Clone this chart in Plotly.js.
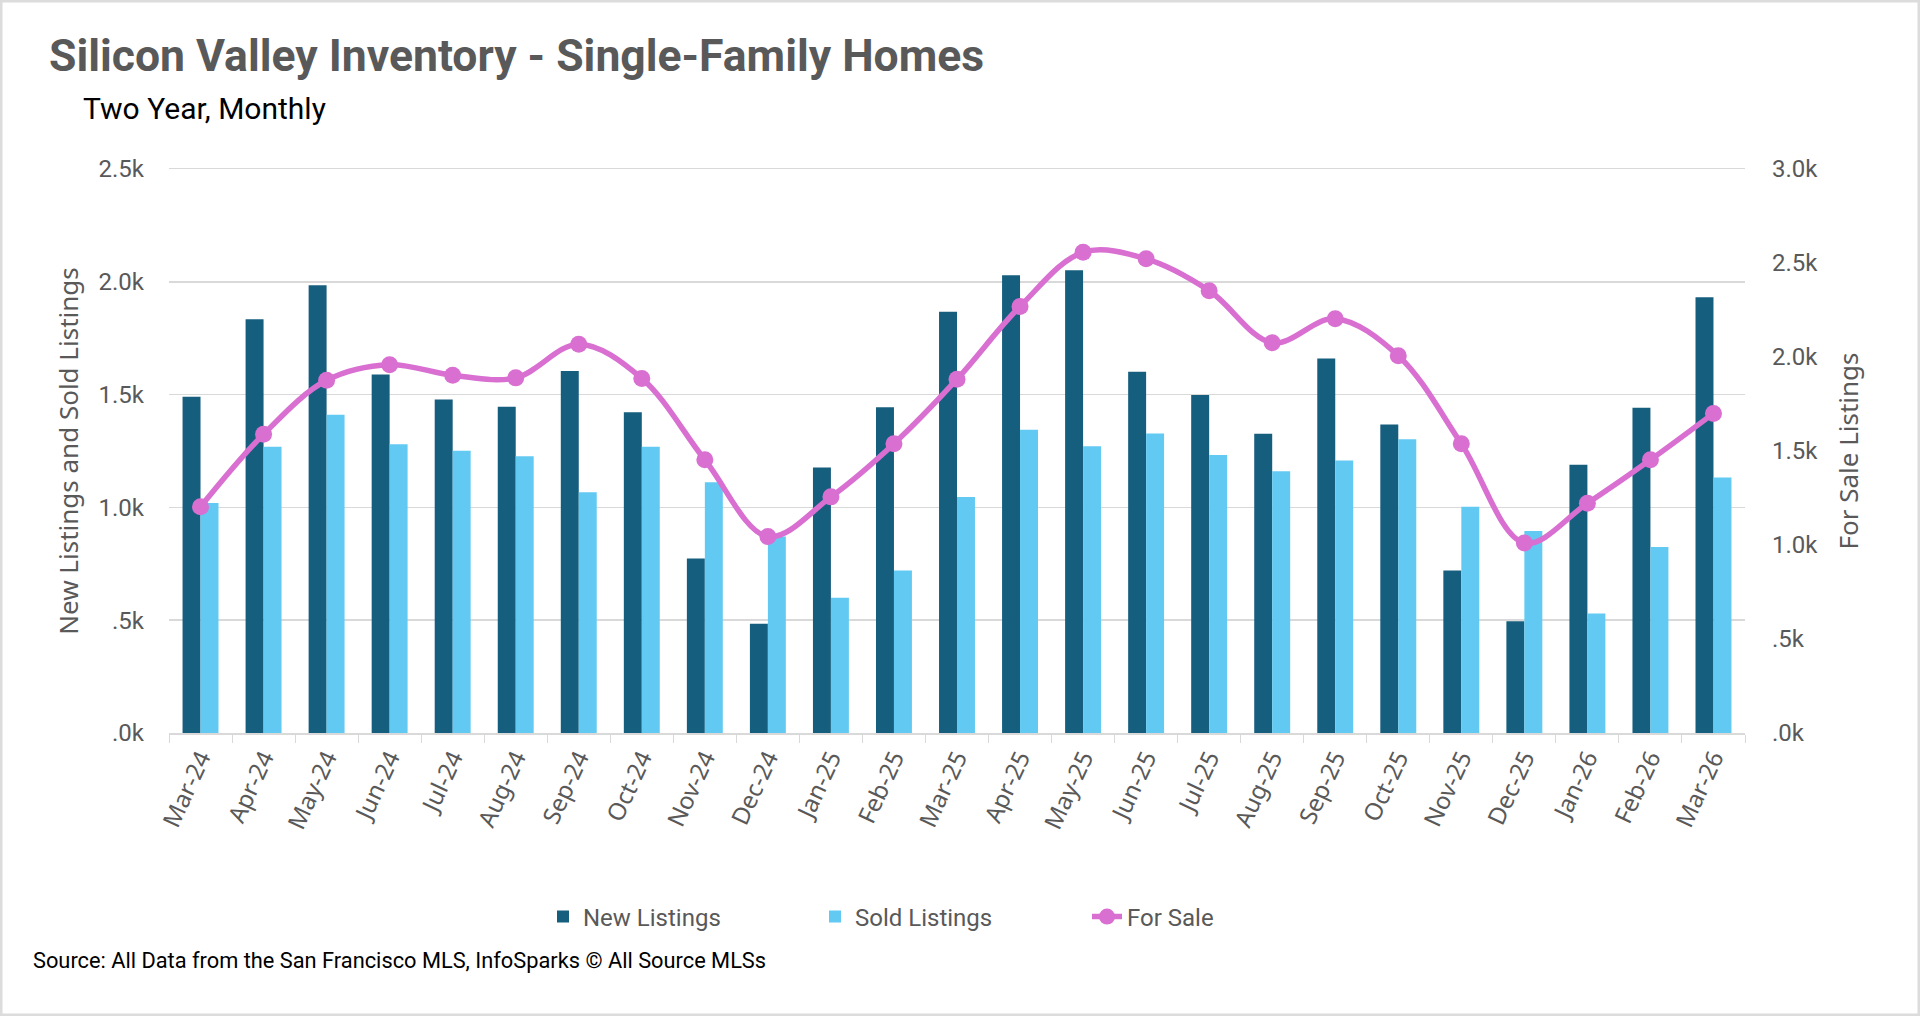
<!DOCTYPE html>
<html>
<head>
<meta charset="utf-8">
<title>Silicon Valley Inventory - Single-Family Homes</title>
<script src="https://cdn.plot.ly/plotly-3.0.1.min.js"></script>
<style>
  html, body { margin: 0; padding: 0; background: #fff; }
  #chart { width: 1920px; height: 1016px; }
</style>
</head>
<body>
<div id="chart"></div>
<script>
// ------------------------------------------------------------
// data
// ------------------------------------------------------------
const months = ['Mar-24', 'Apr-24', 'May-24', 'Jun-24', 'Jul-24', 'Aug-24', 'Sep-24', 'Oct-24', 'Nov-24', 'Dec-24',
    'Jan-25', 'Feb-25', 'Mar-25', 'Apr-25', 'May-25', 'Jun-25', 'Jul-25', 'Aug-25', 'Sep-25', 'Oct-25', 'Nov-25', 'Dec-25',
    'Jan-26', 'Feb-26', 'Mar-26']

const newListings = [1490, 1834, 1985, 1589, 1478, 1446, 1605, 1422, 774, 484,
    1177, 1444, 1867, 2029, 2051, 1601, 1498, 1327, 1660, 1367, 720, 495,
    1189, 1442, 1932]

const soldListings = [1019, 1269, 1411, 1280, 1251, 1227, 1067, 1269, 1111, 871,
    600, 720, 1046, 1344, 1271, 1328, 1232, 1160, 1208, 1302, 1003, 895,
    530, 824, 1132]

const forSale = [1203, 1589, 1876, 1959, 1903, 1889, 2068, 1886, 1453, 1045,
    1256, 1539, 1882, 2269, 2557, 2522, 2353, 2076, 2204, 2007, 1539, 1011,
    1222, 1453, 1700]

// 軸の目盛り
const leftTickVals = [0, 500, 1000, 1500, 2000, 2500]
const leftTickText = ['.0k', '.5k', '1.0k', '1.5k', '2.0k', '2.5k']
const rightTickVals = [0, 500, 1000, 1500, 2000, 2500, 3000]
const rightTickText = ['.0k', '.5k', '1.0k', '1.5k', '2.0k', '2.5k', '3.0k']

// ------------------------------------------------------------
// styles
// ------------------------------------------------------------
const DARK_BLUE = '#165E7E'
const LIGHT_BLUE = '#62CAF2'
const PINK = '#D86FD1'
const GRAY_TEXT = '#595959'
const GRID = '#D9D9D9'
const CONDENSED = 'Roboto, "Liberation Sans", sans-serif'
const ROUND = '"Noto Sans", "Open Sans", sans-serif'

// ------------------------------------------------------------
// traces
// ------------------------------------------------------------
const newTrace = {
    x: months,
    y: newListings,
    type: 'bar',
    name: 'New Listings',
    marker: { color: DARK_BLUE },
    hoverinfo: 'x+y'
}
const soldTrace = {
    x: months,
    y: soldListings,
    type: 'bar',
    name: 'Sold Listings',
    marker: { color: LIGHT_BLUE },
    hoverinfo: 'x+y'
}
const forSaleTrace = {
    x: months,
    y: forSale,
    type: 'scatter',
    mode: 'lines+markers',
    name: 'For Sale',
    yaxis: 'y2',
    line: { color: PINK, width: 5.5, shape: 'spline', smoothing: 1 },
    marker: { color: PINK, size: 17 }
}

// ------------------------------------------------------------
// layout
// ------------------------------------------------------------
const layout = {
    width: 1920,
    height: 1016,
    margin: { l: 169, r: 175, t: 169, b: 283 },
    paper_bgcolor: '#fff',
    plot_bgcolor: '#fff',
    barmode: 'group',
    bargap: 0.43,
    bargroupgap: 0,
    showlegend: true,
    title: {
        text: 'Silicon Valley Inventory - Single-Family Homes',
        xref: 'container', x: 49 / 1920, xanchor: 'left',
        yref: 'container', y: 1 - 55 / 1016, yanchor: 'middle',
        font: { family: CONDENSED, size: 44.5, weight: 'bold', color: GRAY_TEXT }
    },
    xaxis: {
        type: 'category',
        range: [-0.5, months.length - 0.5],
        tickangle: -65,
        tickfont: { family: ROUND, size: 24, color: GRAY_TEXT },
        ticks: 'outside',
        tickson: 'boundaries',
        ticklen: 8,
        tickcolor: GRID,
        showline: true,
        mirror: true,   // 上端の線 = 2.5k のグリッド線
        linecolor: GRID,
        linewidth: 1.5,
        showgrid: false,
        zeroline: false
    },
    yaxis: {
        range: [0, 2500],
        tickvals: leftTickVals,
        ticktext: leftTickText,
        tickfont: { family: CONDENSED, size: 24, color: GRAY_TEXT },
        ticklabelstandoff: 24,
        showgrid: true,
        gridcolor: GRID,
        gridwidth: 1.5,
        zeroline: false,
        showline: false,
        title: {
            text: 'New Listings and Sold Listings',
            font: { family: ROUND, size: 26, color: GRAY_TEXT },
            standoff: 12
        }
    },
    yaxis2: {
        overlaying: 'y',
        side: 'right',
        range: [0, 3000],
        tickvals: rightTickVals,
        ticktext: rightTickText,
        tickfont: { family: CONDENSED, size: 24, color: GRAY_TEXT },
        ticklabelstandoff: 26,
        showgrid: false,
        zeroline: false,
        showline: false,
        title: {
            text: 'For Sale Listings',
            font: { family: ROUND, size: 26, color: GRAY_TEXT },
            standoff: 22
        }
    },
    legend: {
        orientation: 'h',
        x: (543 - 169) / 1576,
        xanchor: 'left',
        y: (733 - 917) / 564,
        yanchor: 'middle',
        entrywidth: 227,
        font: { family: CONDENSED, size: 24, color: GRAY_TEXT },
        traceorder: 'normal'
    },
    annotations: [
        {
            text: 'Two Year, Monthly',
            xref: 'paper', x: (81 - 169) / 1576, xanchor: 'left',
            yref: 'paper', y: (733 - 109) / 564, yanchor: 'middle',
            showarrow: false,
            font: { family: CONDENSED, size: 30, color: '#000' }
        },
        {
            text: 'Source: All Data from the San Francisco MLS, InfoSparks © All Source MLSs',
            xref: 'paper', x: (31 - 169) / 1576, xanchor: 'left',
            yref: 'paper', y: (733 - 960) / 564, yanchor: 'middle',
            showarrow: false,
            font: { family: CONDENSED, size: 21.8, color: '#000' }
        }
    ],
    // チャートエリアの枠線
    shapes: [
        {
            type: 'rect',
            xref: 'paper', yref: 'paper',
            x0: -169 / 1576, x1: (1920 - 169) / 1576,
            y0: (733 - 1016) / 564, y1: 733 / 564,
            line: { color: '#DCDCDC', width: 5 },
            layer: 'below'
        }
    ]
}

Plotly.newPlot('chart', [newTrace, soldTrace, forSaleTrace], layout, { displayModeBar: false, staticPlot: true })
</script>
</body>
</html>
